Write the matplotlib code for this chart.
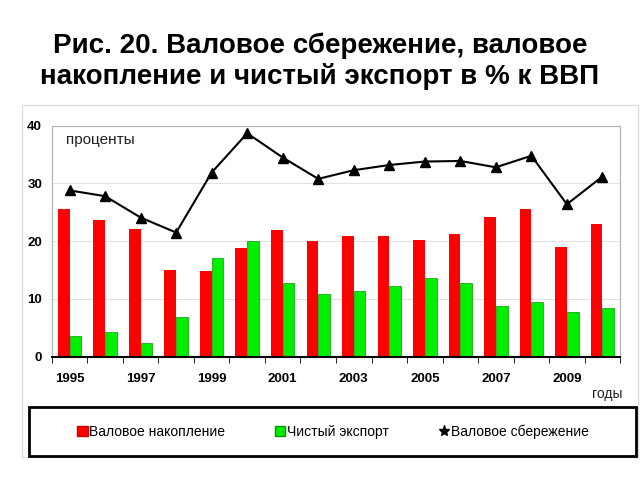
import matplotlib.pyplot as plt
import numpy as np
from matplotlib.lines import Line2D
from matplotlib.patches import Patch, Rectangle

plt.rcParams['font.family'] = ['Liberation Sans', 'DejaVu Sans']

years = list(range(1995, 2011))
accumulation = [25.5, 23.7, 22.1, 15.0, 14.9, 18.8, 22.0, 20.1, 20.9, 20.9, 20.2, 21.2, 24.2, 25.6, 19.0, 22.9]
net_export = [3.5, 4.3, 2.3, 6.8, 17.1, 20.1, 12.8, 10.9, 11.4, 12.3, 13.7, 12.8, 8.7, 9.4, 7.7, 8.4]
savings = [28.8, 27.8, 24.1, 21.5, 31.9, 38.7, 34.5, 30.8, 32.3, 33.2, 33.8, 33.9, 32.8, 34.8, 26.4, 31.2]
tick_labels = [str(y) if y % 2 == 1 else '' for y in years]

fig = plt.figure(figsize=(6.4, 4.8), dpi=100)
ax = fig.add_axes([0.081, 0.257, 0.888, 0.481])

x = np.arange(len(years))
w = 0.33
ax.bar(x - w / 2, accumulation, w, color='#ff0000', zorder=2)
ax.bar(x + w / 2, net_export, w, color='#00ee00', edgecolor='#009900', linewidth=0.5, zorder=2)
ax.plot(x, savings, color='black', lw=1.5, marker='^', ms=7, zorder=3)

ax.set_xlim(-0.5, len(years) - 0.5)
ax.set_ylim(0, 40)
ax.set_yticks([0, 10, 20, 30, 40])
ax.set_xticks(x)
ax.set_xticklabels(tick_labels, fontweight='bold', fontsize=9.5)
ax.set_xticks(np.arange(len(years) + 1) - 0.5, minor=True)
ax.tick_params(axis='x', which='major', length=0, pad=12)
ax.tick_params(axis='x', which='minor', length=4, direction='out')
ax.tick_params(axis='y', labelsize=9.5, length=0, pad=7)
for lab in ax.get_yticklabels():
    lab.set_fontweight('bold')
ax.grid(axis='y', color='#e2e2e2', lw=0.8, zorder=0)
for s in ('top', 'right', 'left'):
    ax.spines[s].set_color('#b0b0b0')
ax.spines['bottom'].set_linewidth(1.5)

ax.text(0.025, 0.94, 'проценты', transform=ax.transAxes, fontsize=11, va='center', color='#222222')
fig.text(0.972, 0.18, 'годы', fontsize=10, ha='right', va='center', color='#222222')

fig.text(0.5, 0.905, 'Рис. 20. Валовое сбережение, валовое', fontsize=20, fontweight='bold',
         ha='center', va='center')
fig.text(0.5, 0.84, 'накопление и чистый экспорт в % к ВВП', fontsize=20, fontweight='bold',
         ha='center', va='center')

fig.patches.append(Rectangle((0.034, 0.048), 0.963, 0.733, transform=fig.transFigure,
                             fill=False, edgecolor='#dddddd', lw=1.0))
fig.patches.append(Rectangle((0.046, 0.05), 0.948, 0.102, transform=fig.transFigure,
                             fill=False, edgecolor='black', lw=2.0, zorder=5))

handles = [Patch(facecolor='#ff0000', edgecolor='#cc0000'),
           Patch(facecolor='#00ee00', edgecolor='#009900'),
           Line2D([], [], color='none', marker='*', markerfacecolor='black',
                  markeredgecolor='black', ms=8)]
labels = ['Валовое накопление', 'Чистый экспорт', 'Валовое сбережение']
fig.legend(handles, labels, loc='center', bbox_to_anchor=(0.52, 0.1), ncol=3, frameon=False,
           fontsize=10, handlelength=0.75, handleheight=0.75, handletextpad=0.1,
           columnspacing=3.6)

fig.savefig('out.png', dpi=100)
